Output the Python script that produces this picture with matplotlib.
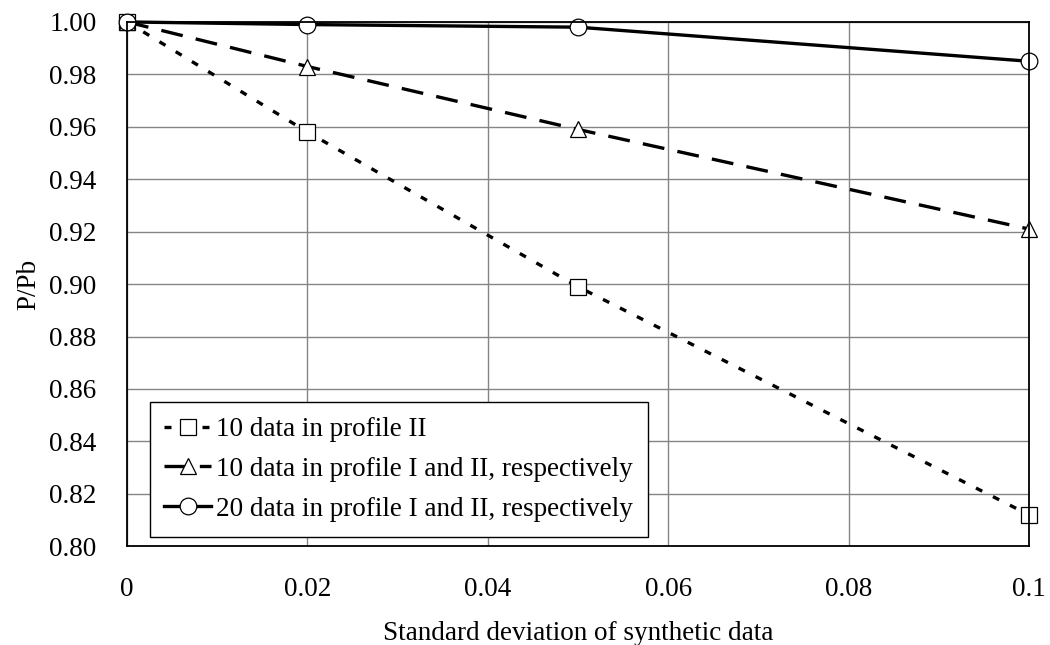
import matplotlib.pyplot as plt

plt.rcParams['font.family'] = ['Liberation Serif', 'DejaVu Serif']

# data
sd = [0, 0.02, 0.05, 0.1]
p_10_II = [1.0, 0.958, 0.899, 0.812]
p_10_I_II = [1.0, 0.983, 0.959, 0.921]
p_20_I_II = [1.0, 0.999, 0.998, 0.985]

labels = ["10 data in profile II",
          "10 data in profile I and II, respectively",
          "20 data in profile I and II, respectively"]
xticks = [0, 0.02, 0.04, 0.06, 0.08, 0.1]
xtick_labels = ['0', '0.02', '0.04', '0.06', '0.08', '0.1']
yticks = [0.80, 0.82, 0.84, 0.86, 0.88, 0.90, 0.92, 0.94, 0.96, 0.98, 1.00]

fs = 19.5

fig = plt.figure(figsize=(10.5, 6.45), dpi=100)
ax = fig.add_axes([0.121, 0.153, 0.859, 0.813])

mk = dict(markersize=12, markerfacecolor='white', markeredgecolor='black',
          markeredgewidth=0.9, color='black', linewidth=2.4, clip_on=False)
ax.plot(sd, p_10_II, linestyle=(0, (2.1, 3.6)), marker='s', label=labels[0], **mk)
ax.plot(sd, p_10_I_II, linestyle=(0, (6.6, 4)), marker='^', label=labels[1], **mk)
ax.plot(sd, p_20_I_II, linestyle='-', marker='o', label=labels[2], **mk)

ax.set_xlim(0, 0.1)
ax.set_ylim(0.80, 1.00)
ax.set_xticks(xticks)
ax.set_xticklabels(xtick_labels)
ax.set_yticks(yticks)
ax.set_yticklabels(['%.2f' % v for v in yticks])
ax.tick_params(length=0, labelsize=fs)
ax.tick_params(axis='x', pad=22)
ax.tick_params(axis='y', pad=22)
ax.grid(True, color='#858585', linewidth=1.0)
for s in ax.spines.values():
    s.set_color('black')
    s.set_linewidth(1.3)

ax.set_xlabel('Standard deviation of synthetic data', fontsize=fs, labelpad=14)
ax.set_ylabel('P/Pb', fontsize=fs, labelpad=6)

leg = ax.legend(loc='upper left', bbox_to_anchor=(0.025, 0.275), fontsize=fs,
                handlelength=1.7, handletextpad=0.22, frameon=True, fancybox=False,
                borderaxespad=0, labelspacing=0.55, borderpad=0.55)
leg.get_frame().set_edgecolor('black')
leg.get_frame().set_linewidth(1.0)
leg.get_frame().set_alpha(1)

fig.savefig('out.png', dpi=100)
